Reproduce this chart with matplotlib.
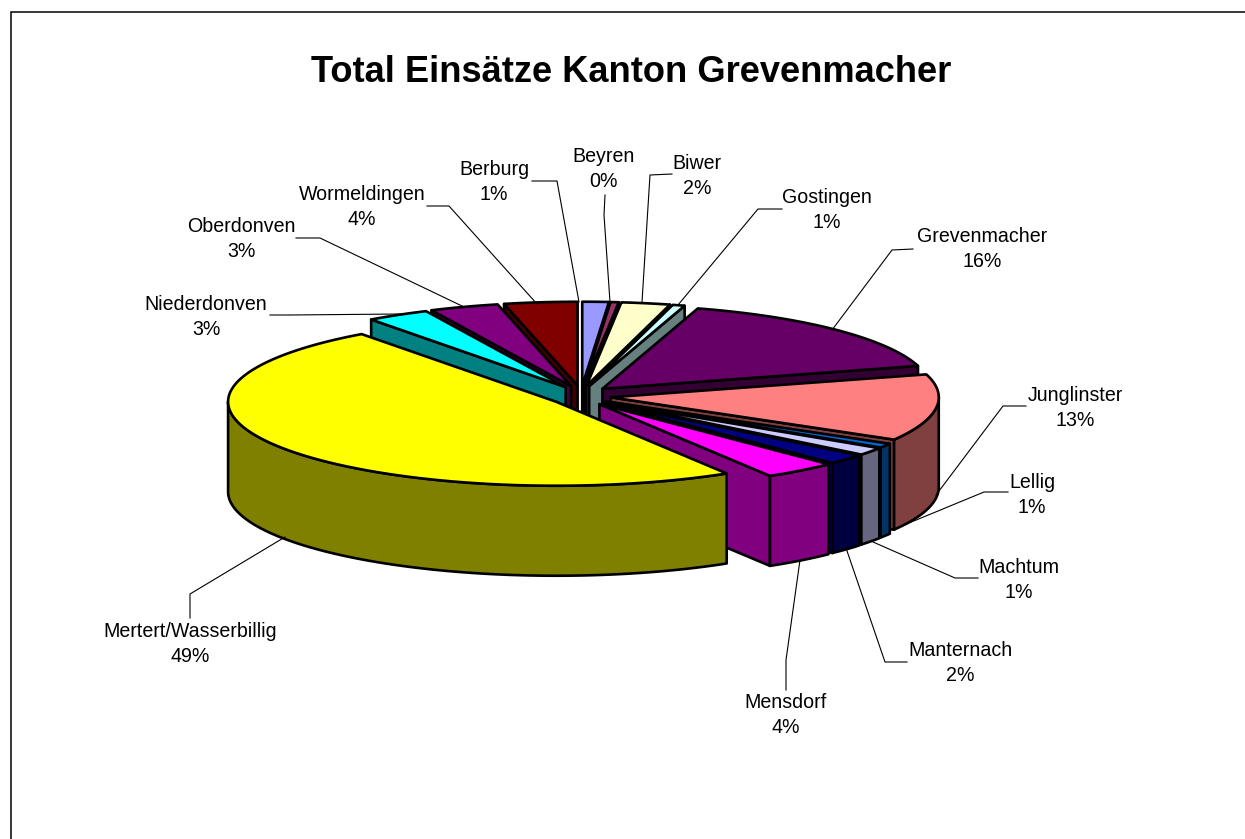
import numpy as np
import matplotlib
matplotlib.use('Agg')
import matplotlib.pyplot as plt
from matplotlib.patches import Polygon, Rectangle

plt.rcParams['font.family'] = ['Liberation Sans', 'DejaVu Sans']

#data
title = 'Total Einsätze Kanton Grevenmacher'
names = ['Berburg', 'Beyren', 'Biwer', 'Gostingen', 'Grevenmacher', 'Junglinster', 'Lellig',
         'Machtum', 'Manternach', 'Mensdorf', 'Mertert/Wasserbillig', 'Niederdonven',
         'Oberdonven', 'Wormeldingen']
values = [1.3, 0.4, 2.4, 0.6, 15.9, 12.8, 0.85, 1.49, 1.95, 3.6, 48.6, 3.1, 3.4, 3.6]
colors = ['#9999FF', '#993366', '#FFFFCC', '#CCFFFF', '#660066', '#FF8080', '#0066CC',
          '#CCCCFF', '#000080', '#FF00FF', '#FFFF00', '#00FFFF', '#800080', '#800000']

#label placement (pixels), text centre then leader line points
label_xy = [(494, 182), (604, 169), (697, 176), (827, 210), (982, 249), (1075, 408), (1032, 495),
            (1019, 580), (960, 663), (786, 715), (190, 644), (206, 317), (241, 239), (362, 207)]
leaders = [[(532, 181), (557, 181), (579, 302)],
           [(605, 195), (604, 215), (610, 302)],
           [(672, 174), (650, 175), (642, 302)],
           [(782, 209), (758, 209), (678, 305)],
           [(913, 249), (892, 250), (832, 330)],
           [(1026, 406), (1003, 406), (936, 495)],
           [(1008, 492), (984, 492), (892, 530)],
           [(978, 578), (955, 578), (873, 542)],
           [(907, 662), (885, 662), (846, 548)],
           [(786, 690), (786, 660), (800, 560)],
           [(190, 618), (190, 594), (285, 537)],
           [(270, 315), (290, 315), (400, 314)],
           [(296, 238), (320, 238), (462, 306)],
           [(427, 206), (449, 206), (537, 304)]]

#pie geometry (pixels)
cx, cy = 581, 396
rx, ry = 328, 84
ex, ey = 30, 10.3
depth = 90
lw = 1.9

fig = plt.figure(figsize=(12.45, 8.39), dpi=100)
ax = fig.add_axes([0, 0, 1, 1])
ax.set_xlim(0, 1245)
ax.set_ylim(839, 0)
ax.axis('off')

ax.add_patch(Rectangle((10.5, 11.5), 1300, 900, fc='white', ec='black', lw=1.1))
ax.text(631.5, 72, title, ha='center', va='center', fontsize=26.1, fontweight='bold')

frac = np.array(values) / sum(values)
ends = np.cumsum(frac) * 2 * np.pi
starts = ends - frac * 2 * np.pi
mids = (starts + ends) / 2


def dark(c):
    return tuple(v / 2 for v in matplotlib.colors.to_rgb(c))


def pt(x0, y0, t):
    return (x0 + rx * np.sin(t), y0 - ry * np.cos(t))


def draw_slice(i):
    x0 = cx + ex * np.sin(mids[i])
    y0 = cy - ey * np.cos(mids[i])
    s, e = starts[i], ends[i]
    wall = dark(colors[i])
    #cut faces, only the ones turned to the viewer
    for t, n in ((s, s - np.pi / 2), (e, e + np.pi / 2)):
        if np.cos(n) < 0:
            p = pt(x0, y0, t)
            ax.add_patch(Polygon([(x0, y0), p, (p[0], p[1] + depth), (x0, y0 + depth)],
                                 fc=wall, ec='black', lw=lw, joinstyle='round'))
    #outer wall
    a, b = max(s, np.pi / 2), min(e, 3 * np.pi / 2)
    if a < b:
        t = np.linspace(a, b, 80)
        upper = np.column_stack(pt(x0, y0, t))
        lower = upper + [0, depth]
        ax.add_patch(Polygon(np.vstack([upper, lower[::-1]]), fc=wall, ec='black', lw=lw,
                             joinstyle='round'))
    #top
    t = np.linspace(s, e, 120)
    top = np.vstack([[(x0, y0)], np.column_stack(pt(x0, y0, t))])
    ax.add_patch(Polygon(top, fc=colors[i], ec='black', lw=lw, joinstyle='round'))


#back to front: right side then left side, the big slice last
right = [i for i in range(len(values)) if mids[i] < np.pi]
left = [i for i in range(len(values)) if mids[i] >= np.pi]
for i in right + left[::-1]:
    draw_slice(i)

for i, name in enumerate(names):
    x, y = label_xy[i]
    ax.text(x, y, '%s\n%d%%' % (name, int(values[i] + 0.5)), ha='center', va='center',
            fontsize=14.15, linespacing=1.4, color='black')
    ax.plot(*zip(*leaders[i]), color='black', lw=0.8)

fig.savefig('out.png', dpi=100)
